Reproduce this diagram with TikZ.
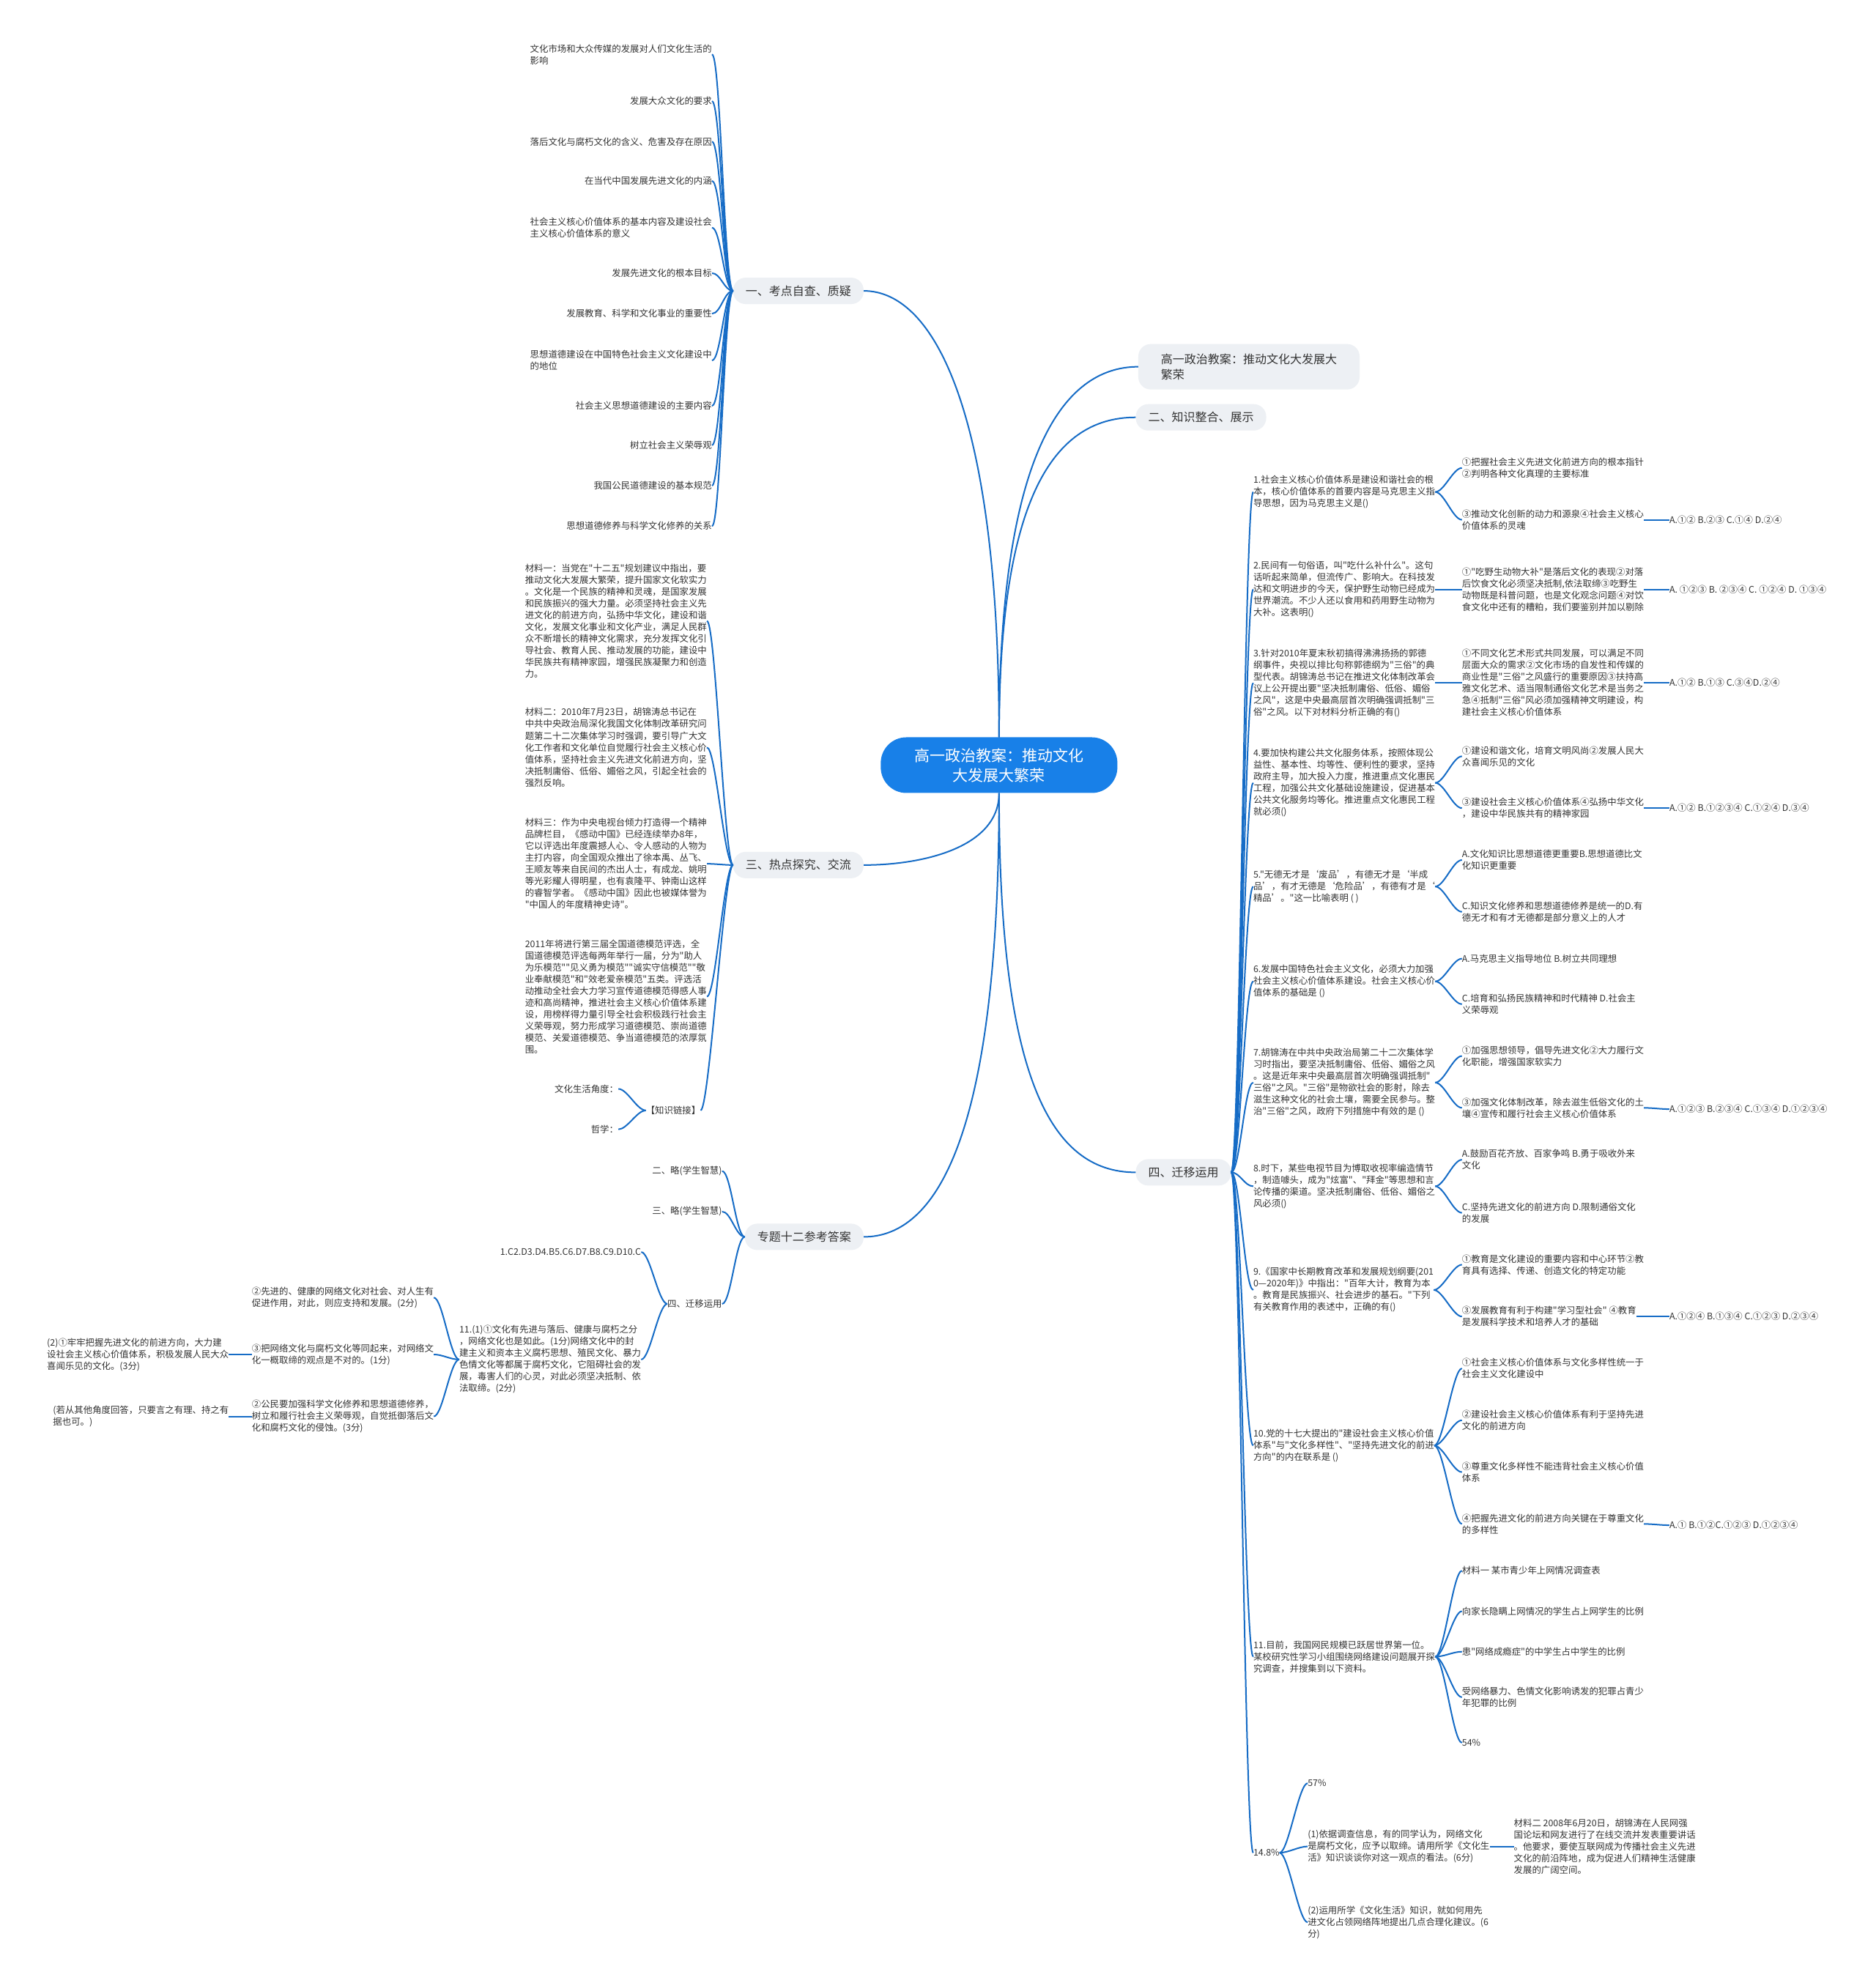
\documentclass[tikz,border=0pt]{standalone}
\usepackage{fontspec}
\setmainfont{Noto Sans CJK SC}[Ligatures=TeXOff]
\definecolor{linkblue}{RGB}{22,108,198}
\definecolor{rootblue}{RGB}{24,128,232}
\definecolor{topicgray}{RGB}{237,240,244}
\definecolor{txt}{RGB}{51,51,51}
\newcommand{\linkL}[2]{\draw[link] (#1.west) to[out=180,in=0,out distance=12pt,in distance=12pt] (#2.east);}
\newcommand{\linkR}[2]{\draw[link] (#1.east) to[out=0,in=180,out distance=12pt,in distance=12pt] (#2.west);}

\begin{document}
\begin{tikzpicture}[x=1.7262pt,y=-1.7262pt,
  leaf/.style={font=\fontsize{12.4pt}{16pt}\selectfont,text=txt,inner sep=0pt,align=left},
  topic/.style={fill=topicgray,rounded corners=17pt,inner xsep=17pt,inner ysep=0pt,minimum height=36pt,font=\fontsize{16pt}{21pt}\selectfont,text=txt,align=left},
  link/.style={draw=linkblue,line width=2pt}]
\fill[white] (0,0) rectangle (1483,1568);
\useasboundingbox (0,0) rectangle (1483,1568);

% centre and main topics
\node[fill=rootblue,text=white,rounded corners=35pt,minimum width=323pt,minimum height=76pt,align=center,font=\fontsize{21pt}{27pt}\selectfont] (root) at (790,605) {高一政治教案：推动文化\\大发展大繁荣};
\node[topic,anchor=east] (kao) at (683,230) {一、考点自查、质疑};
\node[topic,anchor=east] (re) at (683,684) {三、热点探究、交流};
\node[topic,anchor=east] (da) at (683,978) {专题十二参考答案};
\node[topic,anchor=west,minimum height=62pt,minimum width=302pt] (zheng) at (900,290) {高一政治教案：推动文化大发展大\\繁荣};
\node[topic,anchor=west] (zhi) at (898,330) {二、知识整合、展示};
\node[topic,anchor=west] (qian) at (898,927) {四、迁移运用};
\draw[link] (root.north) .. controls (790,330) and (740,230) .. (kao.east);
\draw[link] (root.south) .. controls (790,670) and (730,684) .. (re.east);
\draw[link] (root.south) .. controls (790,900) and (740,978) .. (da.east);
\draw[link] (root.north) .. controls (790,360) and (840,290) .. (zheng.west);
\draw[link] (root.north) .. controls (790,400) and (830,330) .. (zhi.west);
\draw[link] (root.south) .. controls (790,850) and (830,927) .. (qian.west);

% 一
\foreach \n/\y/\t in {1/43/{文化市场和大众传媒的发展对人们文化生活的\\影响},2/80/{发展大众文化的要求},3/112/{落后文化与腐朽文化的含义、危害及存在原因},4/143/{在当代中国发展先进文化的内涵},5/180/{社会主义核心价值体系的基本内容及建设社会\\主义核心价值体系的意义},6/216/{发展先进文化的根本目标},7/248/{发展教育、科学和文化事业的重要性},8/285/{思想道德建设在中国特色社会主义文化建设中\\的地位},9/321/{社会主义思想道德建设的主要内容},10/352/{树立社会主义荣辱观},11/384/{我国公民道德建设的基本规范},12/416/{思想道德修养与科学文化修养的关系}}
  {\node[leaf,anchor=east] (ka\n) at (563,\y) {\t}; \linkL{kao}{ka\n}}

% 三
\node[leaf,anchor=east] (m1) at (559,491) {材料一：当党在"十二五"规划建议中指出，要\\推动文化大发展大繁荣，提升国家文化软实力\\。文化是一个民族的精神和灵魂，是国家发展\\和民族振兴的强大力量。必须坚持社会主义先\\进文化的前进方向，弘扬中华文化，建设和谐\\文化，发展文化事业和文化产业，满足人民群\\众不断增长的精神文化需求，充分发挥文化引\\导社会、教育人民、推动发展的功能，建设中\\华民族共有精神家园，增强民族凝聚力和创造\\力。};
\node[leaf,anchor=east] (m2) at (559,591) {材料二：2010年7月23日，胡锦涛总书记在\\中共中央政治局深化我国文化体制改革研究问\\题第二十二次集体学习时强调，要引导广大文\\化工作者和文化单位自觉履行社会主义核心价\\值体系，坚持社会主义先进文化前进方向，坚\\决抵制庸俗、低俗、媚俗之风，引起全社会的\\强烈反响。};
\node[leaf,anchor=east] (m3) at (559,683) {材料三：作为中央电视台倾力打造得一个精神\\品牌栏目，《感动中国》已经连续举办8年，\\它以评选出年度震撼人心、令人感动的人物为\\主打内容，向全国观众推出了徐本禹、丛飞、\\王顺友等来自民间的杰出人士，有成龙、姚明\\等光彩耀人得明星，也有袁隆平、钟南山这样\\的睿智学者。《感动中国》因此也被媒体誉为\\"中国人的年度精神史诗"。};
\node[leaf,anchor=east] (m4) at (559,788) {2011年将进行第三届全国道德模范评选，全\\国道德模范评选每两年举行一届，分为"助人\\为乐模范""见义勇为模范""诚实守信模范""敬\\业奉献模范"和"效老爱亲模范"五类。评选活\\动推动全社会大力学习宣传道德模范得感人事\\迹和高尚精神，推进社会主义核心价值体系建\\设，用榜样得力量引导全社会积极践行社会主\\义荣辱观，努力形成学习道德模范、崇尚道德\\模范、关爱道德模范、争当道德模范的浓厚氛\\围。};
\node[leaf,anchor=east] (lianjie) at (554,878) {【知识链接】};
\node[leaf,anchor=east] (jiao) at (489,861) {文化生活角度：};
\node[leaf,anchor=east] (zhe) at (489,893) {哲学：};
\foreach \c in {m1,m2,m3,m4,lianjie} {\linkL{re}{\c}}
\linkL{lianjie}{jiao} \linkL{lianjie}{zhe}

% 专题十二参考答案
\node[leaf,anchor=east] (d2) at (571,926) {二、略(学生智慧)};
\node[leaf,anchor=east] (d3) at (571,958) {三、略(学生智慧)};
\node[leaf,anchor=east] (d4) at (571,1031) {四、迁移运用};
\node[leaf,anchor=east] (dk) at (507,990) {1.C2.D3.D4.B5.C6.D7.B8.C9.D10.C};
\node[leaf,anchor=east] (d11) at (507,1075) {11.(1)①文化有先进与落后、健康与腐朽之分\\，网络文化也是如此。(1分)网络文化中的封\\建主义和资本主义腐朽思想、殖民文化、暴力\\色情文化等都属于腐朽文化，它阻碍社会的发\\展，毒害人们的心灵，对此必须坚决抵制、依\\法取缔。(2分)};
\node[leaf,anchor=east] (s1) at (343,1026) {②先进的、健康的网络文化对社会、对人生有\\促进作用，对此，则应支持和发展。(2分)};
\node[leaf,anchor=east] (s2) at (343,1071) {③把网络文化与腐朽文化等同起来，对网络文\\化一概取缔的观点是不对的。(1分)};
\node[leaf,anchor=east] (s3) at (343,1120) {②公民要加强科学文化修养和思想道德修养，\\树立和履行社会主义荣辱观，自觉抵御落后文\\化和腐朽文化的侵蚀。(3分)};
\node[leaf,anchor=east] (t1) at (181,1071) {(2)①牢牢把握先进文化的前进方向，大力建\\设社会主义核心价值体系，积极发展人民大众\\喜闻乐见的文化。(3分)};
\node[leaf,anchor=east] (t2) at (181,1120) {(若从其他角度回答，只要言之有理、持之有\\据也可。)};
\linkL{da}{d2} \linkL{da}{d3} \linkL{da}{d4}
\linkL{d4}{dk} \linkL{d4}{d11}
\linkL{d11}{s1} \linkL{d11}{s2} \linkL{d11}{s3}
\linkL{s2}{t1} \linkL{s3}{t2}

% 四、迁移运用
\node[leaf,anchor=west] (q1) at (991,389) {1.社会主义核心价值体系是建设和谐社会的根\\本，核心价值体系的首要内容是马克思主义指\\导思想，因为马克思主义是()};
\node[leaf,anchor=west] (q1a) at (1156,370) {①把握社会主义先进文化前进方向的根本指针\\②判明各种文化真理的主要标准};
\node[leaf,anchor=west] (q1b) at (1156,411) {③推动文化创新的动力和源泉④社会主义核心\\价值体系的灵魂};
\node[leaf,anchor=west] (q1k) at (1320,411) {A.①② B.②③ C.①④ D.②④};
\node[leaf,anchor=west] (q2) at (991,466) {2.民间有一句俗语，叫"吃什么补什么"。这句\\话听起来简单，但流传广、影响大。在科技发\\达和文明进步的今天，保护野生动物已经成为\\世界潮流。不少人还以食用和药用野生动物为\\大补。这表明()};
\node[leaf,anchor=west] (q2a) at (1156,466) {①"吃野生动物大补"是落后文化的表现②对落\\后饮食文化必须坚决抵制,依法取缔③吃野生\\动物既是科普问题，也是文化观念问题④对饮\\食文化中还有的糟粕，我们要鉴别并加以剔除};
\node[leaf,anchor=west] (q2k) at (1320,466) {A. ①②③ B. ②③④ C. ①②④ D. ①③④};
\node[leaf,anchor=west] (q3) at (991,540) {3.针对2010年夏末秋初搞得沸沸扬扬的郭德\\纲事件，央视以排比句称郭德纲为"三俗"的典\\型代表。胡锦涛总书记在推进文化体制改革会\\议上公开提出要"坚决抵制庸俗、低俗、媚俗\\之风"，这是中央最高层首次明确强调抵制"三\\俗"之风。以下对材料分析正确的有()};
\node[leaf,anchor=west] (q3a) at (1156,540) {①不同文化艺术形式共同发展，可以满足不同\\层面大众的需求②文化市场的自发性和传媒的\\商业性是"三俗"之风盛行的重要原因③扶持高\\雅文化艺术、适当限制通俗文化艺术是当务之\\急④抵制"三俗"风必须加强精神文明建设，构\\建社会主义核心价值体系};
\node[leaf,anchor=west] (q3k) at (1320,540) {A.①② B.①③ C.③④D.②④};
\node[leaf,anchor=west] (q4) at (991,619) {4.要加快构建公共文化服务体系，按照体现公\\益性、基本性、均等性、便利性的要求，坚持\\政府主导，加大投入力度，推进重点文化惠民\\工程，加强公共文化基础设施建设，促进基本\\公共文化服务均等化。推进重点文化惠民工程\\就必须()};
\node[leaf,anchor=west] (q4a) at (1156,598) {①建设和谐文化，培育文明风尚②发展人民大\\众喜闻乐见的文化};
\node[leaf,anchor=west] (q4b) at (1156,639) {③建设社会主义核心价值体系④弘扬中华文化\\，建设中华民族共有的精神家园};
\node[leaf,anchor=west] (q4k) at (1320,639) {A.①② B.①②③④ C.①②④ D.③④};
\node[leaf,anchor=west] (q5) at (991,701) {5."无德无才是‘废品’，有德无才是‘半成\\品’，有才无德是‘危险品’，有德有才是‘\\精品’。"这一比喻表明 ( )};
\node[leaf,anchor=west] (q5a) at (1156,680) {A.文化知识比思想道德更重要B.思想道德比文\\化知识更重要};
\node[leaf,anchor=west] (q5b) at (1156,721) {C.知识文化修养和思想道德修养是统一的D.有\\德无才和有才无德都是部分意义上的人才};
\node[leaf,anchor=west] (q6) at (991,776) {6.发展中国特色社会主义文化，必须大力加强\\社会主义核心价值体系建设。社会主义核心价\\值体系的基础是 ()};
\node[leaf,anchor=west] (q6a) at (1156,758) {A.马克思主义指导地位 B.树立共同理想};
\node[leaf,anchor=west] (q6b) at (1156,794) {C.培育和弘扬民族精神和时代精神 D.社会主\\义荣辱观};
\node[leaf,anchor=west] (q7) at (991,856) {7.胡锦涛在中共中央政治局第二十二次集体学\\习时指出，要坚决抵制庸俗、低俗、媚俗之风\\。这是近年来中央最高层首次明确强调抵制"\\三俗"之风。"三俗"是物欲社会的影射，除去\\滋生这种文化的社会土壤，需要全民参与。整\\治"三俗"之风，政府下列措施中有效的是 ()};
\node[leaf,anchor=west] (q7a) at (1156,835) {①加强思想领导，倡导先进文化②大力履行文\\化职能，增强国家软实力};
\node[leaf,anchor=west] (q7b) at (1156,876) {③加强文化体制改革，除去滋生低俗文化的土\\壤④宣传和履行社会主义核心价值体系};
\node[leaf,anchor=west] (q7k) at (1320,877) {A.①②③ B.②③④ C.①③④ D.①②③④};
\node[leaf,anchor=west] (q8) at (991,938) {8.时下，某些电视节目为博取收视率编造情节\\，制造噱头，成为"炫富"、"拜金"等思想和言\\论传播的渠道。坚决抵制庸俗、低俗、媚俗之\\风必须()};
\node[leaf,anchor=west] (q8a) at (1156,917) {A.鼓励百花齐放、百家争鸣 B.勇于吸收外来\\文化};
\node[leaf,anchor=west] (q8b) at (1156,959) {C.坚持先进文化的前进方向 D.限制通俗文化\\的发展};
\node[leaf,anchor=west] (q9) at (991,1020) {9.《国家中长期教育改革和发展规划纲要(201\\0—2020年)》中指出："百年大计，教育为本\\。教育是民族振兴、社会进步的基石。"下列\\有关教育作用的表述中，正确的有()};
\node[leaf,anchor=west] (q9a) at (1156,1000) {①教育是文化建设的重要内容和中心环节②教\\育具有选择、传递、创造文化的特定功能};
\node[leaf,anchor=west] (q9b) at (1156,1041) {③发展教育有利于构建"学习型社会" ④教育\\是发展科学技术和培养人才的基础};
\node[leaf,anchor=west] (q9k) at (1320,1041) {A.①②④ B.①③④ C.①②③ D.②③④};
\node[leaf,anchor=west] (q10) at (991,1143) {10.党的十七大提出的"建设社会主义核心价值\\体系"与"文化多样性"、"坚持先进文化的前进\\方向"的内在联系是 ()};
\node[leaf,anchor=west] (q10a) at (1156,1082) {①社会主义核心价值体系与文化多样性统一于\\社会主义文化建设中};
\node[leaf,anchor=west] (q10b) at (1156,1123) {②建设社会主义核心价值体系有利于坚持先进\\文化的前进方向};
\node[leaf,anchor=west] (q10c) at (1156,1164) {③尊重文化多样性不能违背社会主义核心价值\\体系};
\node[leaf,anchor=west] (q10d) at (1156,1205) {④把握先进文化的前进方向关键在于尊重文化\\的多样性};
\node[leaf,anchor=west] (q10k) at (1320,1206) {A.① B.①②C.①②③ D.①②③④};
\node[leaf,anchor=west] (q11) at (991,1310) {11.目前，我国网民规模已跃居世界第一位。\\某校研究性学习小组围绕网络建设问题展开探\\究调查，并搜集到以下资料。};
\node[leaf,anchor=west] (q11a) at (1156,1242) {材料一 某市青少年上网情况调查表};
\node[leaf,anchor=west] (q11b) at (1156,1274) {向家长隐瞒上网情况的学生占上网学生的比例};
\node[leaf,anchor=west] (q11c) at (1156,1306) {患"网络成瘾症"的中学生占中学生的比例};
\node[leaf,anchor=west] (q11d) at (1156,1342) {受网络暴力、色情文化影响诱发的犯罪占青少\\年犯罪的比例};
\node[leaf,anchor=west] (q11e) at (1156,1378) {54\%};
\node[leaf,anchor=west] (p148) at (991,1465) {14.8\%};
\node[leaf,anchor=west] (p57) at (1034,1410) {57\%};
\node[leaf,anchor=west] (pa) at (1034,1460) {(1)依据调查信息，有的同学认为，网络文化\\是腐朽文化，应予以取缔。请用所学《文化生\\活》知识谈谈你对这一观点的看法。(6分)};
\node[leaf,anchor=west] (pb) at (1034,1520) {(2)运用所学《文化生活》知识，就如何用先\\进文化占领网络阵地提出几点合理化建议。(6\\分)};
\node[leaf,anchor=west] (pm) at (1197,1460) {材料二 2008年6月20日，胡锦涛在人民网强\\国论坛和网友进行了在线交流并发表重要讲话\\。他要求，要使互联网成为传播社会主义先进\\文化的前沿阵地，成为促进人们精神生活健康\\发展的广阔空间。};
\foreach \c in {q1,q2,q3,q4,q5,q6,q7,q8,q9,q10,q11,p148} {\linkR{qian}{\c}}
\linkR{q1}{q1a} \linkR{q1}{q1b} \linkR{q1b}{q1k}
\linkR{q2}{q2a} \linkR{q2a}{q2k}
\linkR{q3}{q3a} \linkR{q3a}{q3k}
\linkR{q4}{q4a} \linkR{q4}{q4b} \linkR{q4b}{q4k}
\linkR{q5}{q5a} \linkR{q5}{q5b}
\linkR{q6}{q6a} \linkR{q6}{q6b}
\linkR{q7}{q7a} \linkR{q7}{q7b} \linkR{q7b}{q7k}
\linkR{q8}{q8a} \linkR{q8}{q8b}
\linkR{q9}{q9a} \linkR{q9}{q9b} \linkR{q9b}{q9k}
\foreach \c in {a,b,c,d} {\linkR{q10}{q10\c}}
\linkR{q10d}{q10k}
\foreach \c in {a,b,c,d,e} {\linkR{q11}{q11\c}}
\linkR{p148}{p57} \linkR{p148}{pa} \linkR{p148}{pb} \linkR{pa}{pm}
\end{tikzpicture}
\end{document}
